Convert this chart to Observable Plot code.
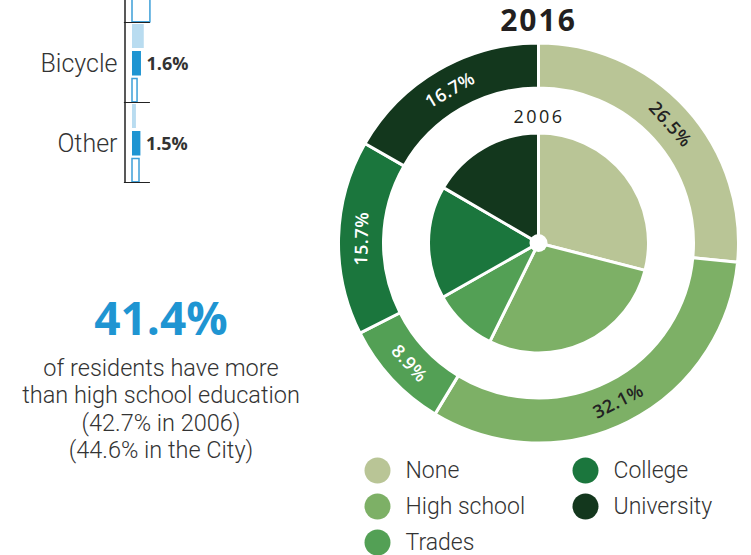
<!DOCTYPE html>
<html><head><meta charset="utf-8">
<script src="https://cdn.jsdelivr.net/npm/d3@7"></script>
<script src="https://cdn.jsdelivr.net/npm/@observablehq/plot@0.6"></script>
<style>
body{margin:0;background:#fff;}
#wrap{position:relative;width:751px;height:555px;overflow:hidden;font-family:"Open Sans",sans-serif;color:#333;}
.abs{position:absolute;}
#headline{left:0;top:294px;width:322px;text-align:center;font-size:46px;line-height:46px;font-weight:700;color:#1f95d2;}
#blurb{left:0;top:355px;width:322px;text-align:center;font-family:Roboto,sans-serif;font-size:23.5px;line-height:27.3px;font-weight:300;color:#333;}
#title{left:330px;top:0;width:417px;text-align:center;font-size:30px;line-height:40px;font-weight:700;letter-spacing:2px;color:#231f20;}
</style></head><body><div id="wrap"></div>
<script>
// ---- commute fragment (top left) ----
const modes = ["Walk", "Bicycle", "Other"];
const modeLabels = ["", "Bicycle", "Other"];
const cityShare = [null, 2.1, 0.7];
const share2016 = [null, 1.6, 1.5];
const share2006 = [3.2, 0.9, 1.25];
const shareLabels = [null, "1.6%", "1.5%"];

// ---- education donut ----
const levels = ["None", "High school", "Trades", "College", "University"];
const levelColors = ["#b9c596", "#7db066", "#53a055", "#1b763d", "#13371d"];
const edu2016 = [26.5, 32.1, 8.9, 15.7, 16.7];
const edu2006 = [29.0, 28.3, 9.5, 16.6, 16.6];
const labels2016 = ["26.5%", "32.1%", "8.9%", "15.7%", "16.7%"];
const labelInk = ["#222", "#222", "#fff", "#fff", "#fff"];
const outerYear = "2016";
const innerYear = "2006";

// ---- headline ----
const headline = "41.4%";
const headlineLines = ["of residents have more", "than high school education", "(42.7% in 2006)", "(44.6% in the City)"];

const wrap = document.getElementById("wrap");
const font = {fontFamily: "Open Sans, sans-serif", background: "transparent", overflow: "visible"};
const lightFont = "Roboto, sans-serif";

// left bars
const barRows = modes.map((m, i) => ({mode: m, label: modeLabels[i], city: cityShare[i], s16: share2016[i], s06: share2006[i], lab: shareLabels[i]}));
const leftPlot = Plot.plot({
  width: 250, height: 248, marginTop: 2, marginBottom: 5, marginLeft: 132, marginRight: 10,
  style: font,
  x: {domain: [0, 10], range: [132, 188], axis: null},
  y: {type: "band", domain: modes, range: [2, 243], padding: 0, axis: null},
  marks: [
    Plot.barX(barRows.filter(d => d.city != null), {y: "mode", x: "city", fill: "#b9dcf0", insetTop: 1, insetBottom: 55}),
    Plot.barX(barRows.filter(d => d.s16 != null), {y: "mode", x: "s16", fill: "#1f95d2", insetTop: 28, insetBottom: 27.5}),
    Plot.barX(barRows, {y: "mode", x: "s06", fill: "#fff", stroke: "#3d9fd8", strokeWidth: 1.5, insetTop: 55.5, insetBottom: 1.2}),
    Plot.barX(modes, {y: d => d, x1: -1.45, x2: 3.2, fill: "#222", insetTop: 79}),
    Plot.ruleX([0], {dx: -7.5, stroke: "#222", strokeWidth: 1.5}),
    Plot.text(barRows, {y: "mode", x: 0, text: "label", textAnchor: "end", dx: -15, fontSize: 25, fontWeight: 300, fontFamily: lightFont, fill: "#333"}),
    Plot.text(barRows.filter(d => d.lab), {y: "mode", x: "s16", text: "lab", textAnchor: "start", dx: 5, dy: 1, fontSize: 18, fontWeight: 700, fill: "#333"})
  ]
});
leftPlot.classList.add("abs");
leftPlot.style.left = "0px";
leftPlot.style.top = "-60px";
wrap.appendChild(leftPlot);

// headline text
const hl = document.createElement("div");
hl.id = "headline"; hl.className = "abs"; hl.textContent = headline;
wrap.appendChild(hl);
const bl = document.createElement("div");
bl.id = "blurb"; bl.className = "abs";
headlineLines.forEach(t => { const d = document.createElement("div"); d.textContent = t; bl.appendChild(d); });
wrap.appendChild(bl);

// title
const tt = document.createElement("div");
tt.id = "title"; tt.className = "abs"; tt.textContent = outerYear;
wrap.appendChild(tt);

// donut
const pie = d3.pie().sort(null).value(d => d);
const outerArcs = pie(edu2016);
const innerArcs = pie(edu2006);
const rRingIn = 155 / 200, rPie = 110 / 200, rLabel = 177 / 200, rHub = 9 / 200;

const arcsMark = (index, scales) => {
  const cx = scales.x(0), cy = scales.y(0), R = scales.x(1) - scales.x(0);
  const g = d3.create("svg:g").attr("transform", `translate(${cx},${cy})`);
  const arcO = d3.arc().innerRadius(R * rRingIn).outerRadius(R);
  const arcI = d3.arc().innerRadius(0).outerRadius(R * rPie);
  g.append("g").selectAll("path").data(outerArcs).join("path")
    .attr("d", arcO).attr("fill", (d, i) => levelColors[i]).attr("stroke", "#fff").attr("stroke-width", 3).attr("stroke-linejoin", "round");
  g.append("g").selectAll("path").data(innerArcs).join("path")
    .attr("d", arcI).attr("fill", (d, i) => levelColors[i]).attr("stroke", "#fff").attr("stroke-width", 3).attr("stroke-linejoin", "round");
  g.append("circle").attr("r", R * rHub).attr("fill", "#fff");
  return g.node();
};

const labelRows = outerArcs.map((a, i) => {
  const t = (a.startAngle + a.endAngle) / 2;
  const deg = t * 180 / Math.PI;
  const rot = (deg > 90 && deg < 270) ? deg - 180 : (deg >= 270 ? deg - 360 : deg);
  return {x: rLabel * Math.sin(t), y: rLabel * Math.cos(t), rot, text: labels2016[i], ink: labelInk[i]};
});

const donut = Plot.plot({
  width: 421, height: 452, margin: 0,
  style: font,
  x: {domain: [-1, 1], range: [8.5, 408.5], axis: null},
  y: {domain: [-1, 1], range: [443, 43], axis: null},
  color: {type: "identity"},
  marks: [
    arcsMark,
    Plot.text(labelRows, {x: "x", y: "y", text: "text", rotate: "rot", fill: "ink", fontSize: 18, fontWeight: 600}),
    Plot.text([innerYear], {x: 0, y: (rRingIn + rPie) / 2, text: d => d, dy: 6, fontSize: 18, fill: "#231f20"})
  ]
});
d3.select(donut).selectAll("text").attr("letter-spacing", 0.5);
d3.select(donut).selectAll("text").filter(function() { return this.textContent === innerYear; }).attr("letter-spacing", 2.5);
donut.classList.add("abs");
donut.style.left = "330px";
donut.style.top = "0px";
wrap.appendChild(donut);

// legend
const legendRows = levels.map((l, i) => ({level: l, col: Math.floor(i / 3), row: i % 3, color: levelColors[i]}));
const legend = Plot.plot({
  width: 421, height: 103, margin: 0,
  style: font,
  x: {type: "point", domain: [0, 1], range: [47, 255], padding: 0, axis: null},
  y: {type: "point", domain: [0, 1, 2], range: [17, 90], padding: 0, axis: null},
  color: {type: "identity"},
  marks: [
    Plot.dot(legendRows, {x: "col", y: "row", r: 13, fill: "color"}),
    Plot.text(legendRows, {x: "col", y: "row", text: "level", dx: 28, textAnchor: "start", fontSize: 23, fontWeight: 300, fontFamily: lightFont, fill: "#333"})
  ]
});
legend.classList.add("abs");
legend.style.left = "330px";
legend.style.top = "452px";
wrap.appendChild(legend);
</script></body></html>
